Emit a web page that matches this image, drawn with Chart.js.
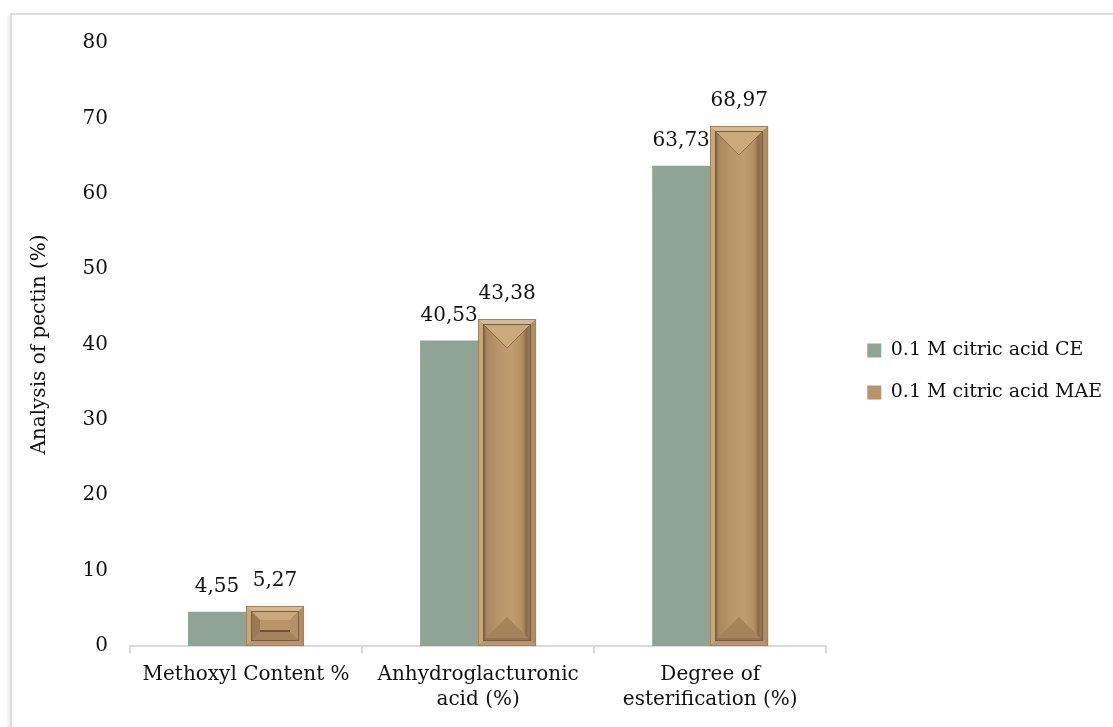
<!DOCTYPE html>
<html>
<head>
<meta charset="utf-8">
<script src="https://cdn.jsdelivr.net/npm/chart.js@4.4.1/dist/chart.umd.min.js"></script>
<style>
  html, body { margin: 0; padding: 0; background: #fff; overflow: hidden; }
  #frame { position: absolute; left: 10px; top: 13px; width: 1200px; height: 800px;
           border: 2px solid #dcdce0; box-shadow: -2px 2px 3px rgba(0,0,0,0.08); }
  #c { position: absolute; left: 0; top: 0; }
</style>
</head>
<body>
<div id="frame"></div>
<canvas id="c" width="1113" height="727"></canvas>
<script>
const categories = [
  ['Methoxyl Content %'],
  ['Anhydroglacturonic', 'acid (%)'],
  ['Degree of', 'esterification (%)']
];
const seriesNames = ['0.1 M citric acid CE', '0.1 M citric acid MAE'];
const ceValues = [4.55, 40.53, 63.73];
const maeValues = [5.27, 43.38, 68.97];
const yTicks = [0, 10, 20, 30, 40, 50, 60, 70, 80];
const yTitle = 'Analysis of pectin (%)';

const FONT = "'DejaVu Serif', 'Liberation Serif', serif";
const FS = 20;
const LEGEND_FS = 19;

function fmt(v) { return v.toFixed(2).replace('.', ','); }

function poly(ctx, pts, fill) {
  ctx.beginPath();
  ctx.moveTo(pts[0][0], pts[0][1]);
  for (let i = 1; i < pts.length; i++) ctx.lineTo(pts[i][0], pts[i][1]);
  ctx.closePath();
  ctx.fillStyle = fill;
  ctx.fill();
}

function drawBevel(ctx, x0, y0, x1, y1) {
  const w = x1 - x0, h = y1 - y0;
  if (w <= 2 || h <= 2) return;
  const r = Math.min(5, w / 4, h / 4);
  poly(ctx, [[x0, y0], [x1, y0], [x1 - r, y0 + r], [x0 + r, y0 + r]], '#d6b990');
  poly(ctx, [[x0, y0], [x0 + r, y0 + r], [x0 + r, y1 - r], [x0, y1]], '#c8a77b');
  poly(ctx, [[x1, y0], [x1, y1], [x1 - r, y1 - r], [x1 - r, y0 + r]], '#b08e64');
  poly(ctx, [[x0, y1], [x0 + r, y1 - r], [x1 - r, y1 - r], [x1, y1]], '#b89670');
  const ix0 = x0 + r, iy0 = y0 + r, ix1 = x1 - r, iy1 = y1 - r;
  const iw = ix1 - ix0, ih = iy1 - iy0;
  const g = ctx.createLinearGradient(ix0, 0, ix1, 0);
  g.addColorStop(0, '#7d5e3a');
  g.addColorStop(0.08, '#a98760');
  g.addColorStop(0.3, '#b7946a');
  g.addColorStop(0.6, '#c09d71');
  g.addColorStop(0.82, '#b38f64');
  g.addColorStop(0.9, '#8c6c46');
  g.addColorStop(1, '#9d7c55');
  ctx.fillStyle = g;
  ctx.fillRect(ix0, iy0, iw, ih);
  const bw = Math.min(iw / 2, ih * 0.3);
  poly(ctx, [[ix0, iy0], [ix1, iy0], [ix1 - bw, iy0 + bw], [ix0 + bw, iy0 + bw]], '#caa97d');
  poly(ctx, [[ix0, iy1], [ix0 + bw, iy1 - bw], [ix1 - bw, iy1 - bw], [ix1, iy1]], '#a5845c');
  if (bw < iw / 2) {
    poly(ctx, [[ix0, iy0], [ix0 + bw, iy0 + bw], [ix0 + bw, iy1 - bw], [ix0, iy1]], '#9a7a53');
    poly(ctx, [[ix1, iy0], [ix1, iy1], [ix1 - bw, iy1 - bw], [ix1 - bw, iy0 + bw]], '#b39168');
    ctx.fillStyle = '#b89469';
    ctx.fillRect(ix0 + bw, iy0 + bw, iw - 2 * bw, ih - 2 * bw);
    ctx.fillStyle = '#6f5333';
    ctx.fillRect(ix0 + bw, iy1 - bw - 2, iw - 2 * bw, 2);
  } else {
    ctx.strokeStyle = 'rgba(110,82,50,0.6)';
    ctx.lineWidth = 1;
    ctx.beginPath();
    ctx.moveTo(ix0, iy0); ctx.lineTo(ix0 + bw, iy0 + bw); ctx.lineTo(ix1, iy0);
    ctx.moveTo(ix0, iy1 - 2); ctx.lineTo(ix1, iy1 - 2);
    ctx.stroke();
  }
  ctx.lineWidth = 1;
  ctx.strokeStyle = '#7a5d3b';
  ctx.strokeRect(ix0 + 0.5, iy0 + 0.5, iw - 1, ih - 1);
  ctx.strokeStyle = '#a3835c';
  ctx.strokeRect(x0 + 0.5, y0 + 0.5, w - 1, h - 1);
}

const bevelPlugin = {
  id: 'bevel',
  afterDatasetsDraw(chart) {
    const ctx = chart.ctx;
    const meta = chart.getDatasetMeta(1);
    ctx.save();
    meta.data.forEach(el => {
      const p = el.getProps(['x', 'y', 'base', 'width'], true);
      drawBevel(ctx, Math.round(p.x - p.width / 2), Math.round(p.y), Math.round(p.x + p.width / 2), Math.round(p.base));
    });
    ctx.restore();
  }
};

const labelPlugin = {
  id: 'valueLabels',
  afterDatasetsDraw(chart) {
    const ctx = chart.ctx;
    ctx.save();
    ctx.font = FS + 'px ' + FONT;
    ctx.fillStyle = '#111';
    ctx.textAlign = 'center';
    ctx.textBaseline = 'alphabetic';
    chart.data.datasets.forEach((ds, i) => {
      const meta = chart.getDatasetMeta(i);
      meta.data.forEach((el, j) => {
        const p = el.getProps(['x', 'y'], true);
        ctx.fillText(fmt(ds.data[j]), p.x, p.y - 20);
      });
    });
    ctx.restore();
  }
};

const legendShift = {
  id: 'legendShift',
  afterLayout(chart) {
    const lg = chart.legend;
    if (lg) { lg.top -= 11; lg.bottom -= 11; lg.left += 18; lg.right += 18; }
  }
};

new Chart(document.getElementById('c'), {
  type: 'bar',
  data: {
    labels: categories,
    datasets: [
      { label: seriesNames[0], data: ceValues, backgroundColor: '#8fa396', borderWidth: 0,
        categoryPercentage: 0.5, barPercentage: 1.0 },
      { label: seriesNames[1], data: maeValues, backgroundColor: '#b8946a', borderWidth: 0,
        categoryPercentage: 0.5, barPercentage: 1.0 }
    ]
  },
  options: {
    responsive: false,
    animation: false,
    layout: { padding: { top: 43, left: 10, right: 19, bottom: 5 } },
    plugins: {
      tooltip: { enabled: false },
      legend: {
        position: 'right',
        align: 'center',
        labels: {
          font: { family: FONT, size: LEGEND_FS },
          color: '#111',
          boxWidth: 14,
          boxHeight: 14,
          padding: 23,
          generateLabels(chart) {
            const items = Chart.defaults.plugins.legend.labels.generateLabels(chart);
            items.forEach(it => { it.lineWidth = 0; });
            return items;
          }
        }
      }
    },
    scales: {
      x: {
        grid: { display: true, drawOnChartArea: false, drawTicks: true, tickLength: 7,
                color: '#d9d9de', lineWidth: 2, offset: true },
        border: { display: true, color: '#d9d9de', width: 2 },
        ticks: { font: { family: FONT, size: FS, lineHeight: 1.25 }, color: '#111', padding: 9, maxRotation: 0, autoSkip: false },
        afterFit(scale) { scale.height = 727 - 646 - 5; }
      },
      y: {
        min: 0, max: 80,
        afterBuildTicks(scale) { scale.ticks = yTicks.map(v => ({ value: v })); },
        grid: { display: false, drawTicks: false },
        border: { display: false },
        ticks: { font: { family: FONT, size: FS }, color: '#111', padding: 22 },
        title: { display: true, text: yTitle, font: { family: FONT, size: FS }, color: '#111', padding: { top: 18, bottom: 0 } },
        afterFit(scale) { scale.width = 120; }
      }
    }
  },
  plugins: [bevelPlugin, labelPlugin, legendShift]
});
</script>
</body>
</html>
